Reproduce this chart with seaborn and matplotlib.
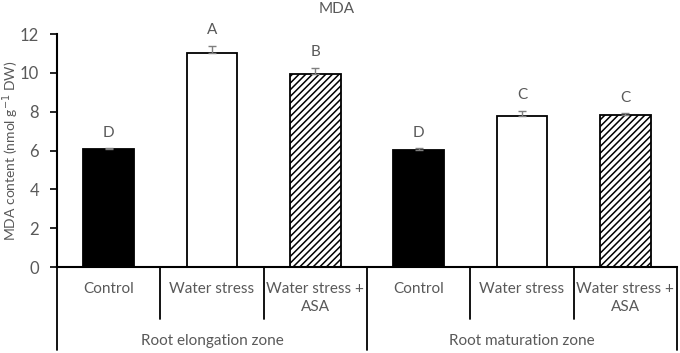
import pandas as pd
import numpy as np
import seaborn as sns
import matplotlib.pyplot as plt
import matplotlib.transforms as mtransforms

sns.set_style("white")
plt.rcParams["font.family"] = ["Lato", "DejaVu Sans"]
plt.rcParams["hatch.linewidth"] = 1.1

# data
zones = ["Root elongation zone", "Root maturation zone"]
treatments = ["Control", "Water stress", "Water stress +\nASA"]
mda = [6.08, 11.0, 9.93, 6.05, 7.8, 7.83]
mda_err = [0.05, 0.4, 0.33, 0.08, 0.25, 0.1]
letters = ["D", "A", "B", "D", "C", "C"]

df = pd.DataFrame({
    "zone": np.repeat(zones, 3),
    "treatment": treatments * 2,
    "mda": mda,
    "err": mda_err,
})
df["key"] = [f"{z}|{t}" for z, t in zip(df["zone"], df["treatment"])]

GREY = "#595959"
colors = ["black", "white", "white", "black", "white", "white"]

fig = plt.figure(figsize=(6.8, 3.53), dpi=100)
ax = fig.add_axes([57 / 680, 1 - 267 / 353, 620 / 680, 233 / 353])

sns.barplot(data=df, x="key", y="mda", hue="key", palette=colors,
            edgecolor="black", linewidth=1.3, width=0.49, legend=False,
            errorbar=None, ax=ax)
for i, p in enumerate(ax.patches):
    if i in (2, 5):
        p.set_hatch("/////")

x = np.arange(len(df))
ax.errorbar(x, df["mda"], yerr=[np.zeros(len(df)), df["err"]], fmt="none",
            ecolor="#7f7f7f", elinewidth=1, capsize=3, capthick=1)

for xi, v, e, l in zip(x, df["mda"], df["err"], letters):
    ax.annotate(l, (xi, v + e), xytext=(0, 6), textcoords="offset points",
                ha="center", va="bottom", fontsize=11, color=GREY)

ax.set_xlim(-0.5, 5.5)
ax.set_ylim(0, 12)
ax.set_yticks(range(0, 13, 2))
ax.tick_params(axis="y", left=True, length=5, width=1.2, colors="black",
               labelcolor=GREY, labelsize=12, pad=8)
ax.tick_params(axis="x", bottom=False, labelbottom=False)
ax.set_xlabel("")
ax.set_ylabel("MDA content (nmol g$^{-1}$ DW)", color=GREY, fontsize=10)
ax.yaxis.set_label_coords(-36 / 620, 0.5)
for s in ["top", "right"]:
    ax.spines[s].set_visible(False)
for s in ["left", "bottom"]:
    ax.spines[s].set_color("black")
    ax.spines[s].set_linewidth(1.5)

# category axis below the plot, excel style
trans = mtransforms.blended_transform_factory(ax.transData, ax.transAxes)
for xd in [0.5, 1.5, 3.5, 4.5]:
    ax.plot([xd, xd], [0, -52 / 233], transform=trans, color="black", lw=1.3, clip_on=False)
for xd in [-0.5, 2.5, 5.5]:
    ax.plot([xd, xd], [0, -83 / 233], transform=trans, color="black", lw=1.3, clip_on=False)
for xi, t in zip(x, df["treatment"]):
    ax.text(xi, -15 / 233, t, transform=trans, ha="center", va="top",
            fontsize=11, color=GREY, linespacing=1.4)
for gi, z in enumerate(zones):
    ax.text(gi * 3 + 1, -74 / 233, z, transform=trans, ha="center", va="center",
            fontsize=11, color=GREY)

fig.text(337 / 680, 1 - 9 / 353, "MDA", ha="center", va="center", fontsize=11, color=GREY)

plt.savefig("out.png", dpi=100)
